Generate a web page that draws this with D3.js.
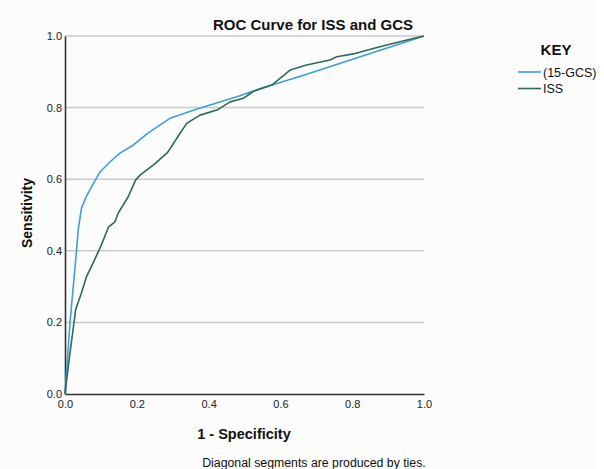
<!DOCTYPE html>
<html>
<head>
<meta charset="utf-8">
<script src="https://cdn.jsdelivr.net/npm/d3@7"></script>
<style>
  body { margin: 0; background: #fff; }
  text { font-family: "Liberation Sans", Arial, sans-serif; }
</style>
</head>
<body>
<script>
// ROC points: [1 - specificity, sensitivity]
const gcsPoints = [
  [0, 0], [0.014, 0.2], [0.032, 0.4], [0.037, 0.46], [0.046, 0.52], [0.06, 0.553],
  [0.08, 0.59], [0.0975, 0.62], [0.125, 0.648], [0.153, 0.673], [0.19, 0.695],
  [0.23, 0.728], [0.292, 0.77], [0.37, 0.797], [0.404, 0.807], [0.487, 0.833],
  [0.543, 0.853], [0.577, 0.863], [0.66, 0.889], [0.75, 0.918], [0.85, 0.951], [1, 1]
];
const issPoints = [
  [0, 0], [0.012, 0.1], [0.03, 0.237], [0.045, 0.28], [0.06, 0.328], [0.08, 0.37],
  [0.1, 0.413], [0.121, 0.466], [0.139, 0.481], [0.148, 0.505], [0.176, 0.551],
  [0.197, 0.598], [0.21, 0.612], [0.25, 0.643], [0.286, 0.675], [0.315, 0.72],
  [0.339, 0.756], [0.376, 0.779], [0.423, 0.793], [0.46, 0.816], [0.497, 0.826],
  [0.524, 0.845], [0.576, 0.863], [0.627, 0.905], [0.673, 0.919], [0.738, 0.933],
  [0.757, 0.942], [0.803, 0.95], [0.877, 0.97], [0.933, 0.984], [0.97, 0.993], [1, 1]
];
const seriesNames = ["(15-GCS)", "ISS"];
const seriesColors = ["#3d9ddd", "#2c6b5b"];
const tickValues = [0, 0.2, 0.4, 0.6, 0.8, 1.0];

const width = 604, height = 469;
const margin = { left: 65, right: 180, top: 36, bottom: 75 };

const svg = d3.select("body").append("svg")
  .attr("width", width)
  .attr("height", height)
  .attr("viewBox", [0, 0, width, height]);

// faint chart-box background
svg.append("rect")
  .attr("x", 0).attr("y", 0)
  .attr("width", 594).attr("height", height)
  .attr("fill", "#fcfcfc");

const x = d3.scaleLinear().domain([0, 1]).range([margin.left, width - margin.right]);
const y = d3.scaleLinear().domain([0, 1]).range([height - margin.bottom, margin.top]);

// horizontal gridlines
svg.append("g")
  .selectAll("line")
  .data(tickValues.slice(1))
  .join("line")
  .attr("x1", x(0)).attr("x2", x(1))
  .attr("y1", d => y(d)).attr("y2", d => y(d))
  .attr("stroke", "#c9c9c9")
  .attr("stroke-width", 1.5);

// axes
const xAxis = svg.append("g")
  .attr("transform", `translate(0,${y(0)})`)
  .call(d3.axisBottom(x).tickValues(tickValues).tickFormat(d3.format(".1f")).tickSize(0).tickPadding(6));
const yAxis = svg.append("g")
  .attr("transform", `translate(${x(0)},0)`)
  .call(d3.axisLeft(y).tickValues(tickValues).tickFormat(d3.format(".1f")).tickSize(0).tickPadding(3));

[xAxis, yAxis].forEach(g => {
  g.select(".domain").attr("stroke", "#333").attr("stroke-width", 1.6);
  g.selectAll("text")
    .attr("fill", "#222")
    .style("font-size", "11px")
    .style("font-family", "'Liberation Sans', Arial, sans-serif");
});

// curves
const line = d3.line()
  .x(d => x(d[0]))
  .y(d => y(d[1]));

[gcsPoints, issPoints].forEach((pts, i) => {
  svg.append("path")
    .datum(pts)
    .attr("fill", "none")
    .attr("stroke", seriesColors[i])
    .attr("stroke-width", 1.6)
    .attr("stroke-linejoin", "round")
    .attr("d", line);
});

// title
svg.append("text")
  .attr("x", 313).attr("y", 30)
  .attr("text-anchor", "middle")
  .style("font-size", "15px")
  .style("font-weight", "bold")
  .attr("fill", "#111")
  .text("ROC Curve for ISS and GCS");

// axis titles
svg.append("text")
  .attr("x", 244).attr("y", 439)
  .attr("text-anchor", "middle")
  .style("font-size", "14.5px")
  .style("font-weight", "bold")
  .attr("fill", "#111")
  .text("1 - Specificity");

svg.append("text")
  .attr("transform", "translate(32,213) rotate(-90)")
  .attr("text-anchor", "middle")
  .style("font-size", "14px")
  .style("font-weight", "bold")
  .attr("fill", "#111")
  .text("Sensitivity");

// footnote
svg.append("text")
  .attr("x", 314).attr("y", 467)
  .attr("text-anchor", "middle")
  .style("font-size", "12.3px")
  .attr("fill", "#111")
  .text("Diagonal segments are produced by ties.");

// legend
const legend = svg.append("g");
legend.append("text")
  .attr("x", 556).attr("y", 55)
  .attr("text-anchor", "middle")
  .style("font-size", "15px")
  .style("font-weight", "bold")
  .attr("fill", "#111")
  .text("KEY");

const item = legend.selectAll("g.item")
  .data(seriesNames)
  .join("g")
  .attr("class", "item")
  .attr("transform", (d, i) => `translate(518,${72 + i * 16.5})`);
item.append("line")
  .attr("x1", 0).attr("x2", 23)
  .attr("stroke", (d, i) => seriesColors[i])
  .attr("stroke-width", 1.6);
item.append("text")
  .attr("x", 25).attr("y", 4.5)
  .style("font-size", "12.5px")
  .attr("fill", "#111")
  .text(d => d);
</script>
</body>
</html>
